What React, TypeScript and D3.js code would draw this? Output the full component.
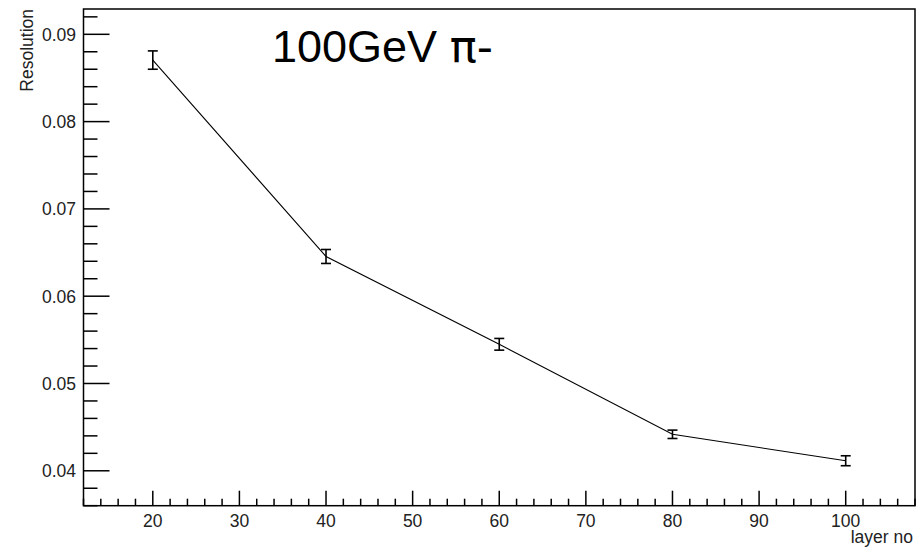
import React from "react";
import * as d3 from "d3";

// Resolution vs. number of layers for 100 GeV negative pions
const layers: number[] = [20, 40, 60, 80, 100];
const resolution: number[] = [0.08705, 0.06455, 0.05449, 0.04418, 0.04115];
const resolutionErr: number[] = [0.00105, 0.0008, 0.00067, 0.00048, 0.00057];

const xMajorTicks: number[] = [20, 30, 40, 50, 60, 70, 80, 90, 100];
const yMajorTicks: number[] = [0.04, 0.05, 0.06, 0.07, 0.08, 0.09];
const yTickLabels: string[] = ["0.04", "0.05", "0.06", "0.07", "0.08", "0.09"];

const xTitle = "layer no";
const yTitle = "Resolution";
const labelEnergy = "100GeV ";
const labelParticle = "\u03c0-";

const W = 924;
const H = 548;
const frame = { left: 83.5, right: 915, top: 9, bottom: 505.7 };
const FONT = "'Liberation Sans', Arial, Helvetica, sans-serif";

export default function App() {
  const x = d3.scaleLinear().domain([12, 108]).range([frame.left, frame.right]);
  const y = d3.scaleLinear().domain([0.036, 0.0929]).range([frame.bottom, frame.top]);

  const xMinor = d3.range(12, 108.001, 2).filter((v) => v % 10 !== 0);
  const yMinor = d3
    .range(0, 29)
    .map((i) => 0.036 + i * 0.002)
    .filter((v) => v <= 0.0929 && Math.abs(Math.round(v * 100) - v * 100) > 1e-6);

  const pts: [number, number][] = layers.map((l, i) => [l, resolution[i]]);
  const line = d3
    .line<[number, number]>()
    .x((d) => x(d[0]))
    .y((d) => y(d[1]));

  return (
    <svg
      width={W}
      height={H}
      style={{ position: "absolute", left: 0, top: 0, background: "#fff" }}
      fontFamily={FONT}
    >
      <rect x={0} y={0} width={W} height={H} fill="#fff" />
      {/* frame */}
      <rect
        x={frame.left}
        y={frame.top}
        width={frame.right - frame.left}
        height={frame.bottom - frame.top}
        fill="none"
        stroke="#000"
        strokeWidth={1.5}
      />

      {/* x ticks */}
      {xMajorTicks.map((t) => (
        <g key={"xM" + t}>
          <line x1={x(t)} x2={x(t)} y1={frame.bottom} y2={frame.bottom - 15} stroke="#000" strokeWidth={1.5} />
          <text x={x(t)} y={527} textAnchor="middle" fontSize={17.5} fill="#222">
            {t}
          </text>
        </g>
      ))}
      {xMinor.map((t) => (
        <line key={"xm" + t} x1={x(t)} x2={x(t)} y1={frame.bottom} y2={frame.bottom - 7} stroke="#000" strokeWidth={1.5} />
      ))}

      {/* y ticks */}
      {yMajorTicks.map((t, i) => (
        <g key={"yM" + t}>
          <line x1={frame.left} x2={frame.left + 26} y1={y(t)} y2={y(t)} stroke="#000" strokeWidth={1.5} />
          <text x={76} y={y(t) + 6.5} textAnchor="end" fontSize={17.5} fill="#222">
            {yTickLabels[i]}
          </text>
        </g>
      ))}
      {yMinor.map((t) => (
        <line key={"ym" + t} x1={frame.left} x2={frame.left + 14} y1={y(t)} y2={y(t)} stroke="#000" strokeWidth={1.5} />
      ))}

      {/* axis titles */}
      <text x={913} y={543} textAnchor="end" fontSize={17.5} fill="#222">
        {xTitle}
      </text>
      <text
        transform={`translate(33, 9) rotate(-90)`}
        textAnchor="end"
        fontSize={17.5}
        fill="#222"
      >
        {yTitle}
      </text>

      {/* data line */}
      <path d={line(pts) ?? ""} fill="none" stroke="#000" strokeWidth={1.1} />

      {/* error bars */}
      {pts.map((p, i) => {
        const cx = x(p[0]);
        const y1 = y(p[1] + resolutionErr[i]);
        const y2 = y(p[1] - resolutionErr[i]);
        return (
          <g key={"e" + i} stroke="#000" strokeWidth={1.6}>
            <line x1={cx} x2={cx} y1={y1} y2={y2} />
            <line x1={cx - 5} x2={cx + 5} y1={y1} y2={y1} />
            <line x1={cx - 5} x2={cx + 5} y1={y2} y2={y2} />
          </g>
        );
      })}

      {/* plot label */}
      <text x={272} y={62} fontSize={45} fill="#000" style={{ whiteSpace: "pre" }}>
        {labelEnergy}
        <tspan fontFamily="'DejaVu Sans', sans-serif" fontSize={45}>
          {labelParticle}
        </tspan>
      </text>
    </svg>
  );
}
